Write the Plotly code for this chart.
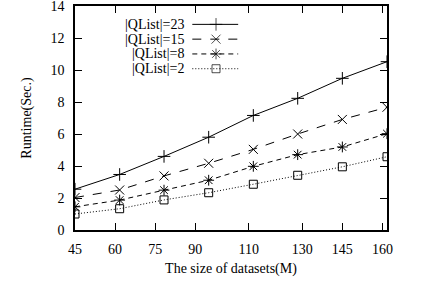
import plotly.graph_objects as go

x_sizes = [45, 61.7, 78.3, 95, 111.7, 128.3, 145, 161.7]
x_ticks = [45, 60, 75, 90, 110, 130, 145, 160]
y_ticks = [0, 2, 4, 6, 8, 10, 12, 14]

q23 = [2.55, 3.47, 4.6, 5.8, 7.16, 8.23, 9.48, 10.52]
q15 = [2.03, 2.5, 3.38, 4.17, 5.04, 6.0, 6.91, 7.67]
q8 = [1.45, 1.87, 2.49, 3.11, 3.98, 4.71, 5.19, 6.02]
q2 = [1.0, 1.33, 1.88, 2.33, 2.86, 3.42, 3.95, 4.58]

labels = ["|QList|=23", "|QList|=15", "|QList|=8", "|QList|=2"]
series = [q23, q15, q8, q2]
dashes = ["solid", "dash", "5px,4px", "1px,2px"]
symbols = ["cross-thin-open", "x-thin-open", "asterisk-open", "square-open"]
sizes = [9, 9, 9, 8]

FONT = "Liberation Serif"
fig = go.Figure()

for lab, ys, d, s, sz in zip(labels, series, dashes, symbols, sizes):
    fig.add_trace(go.Scatter(
        x=x_sizes, y=ys, mode="lines+markers", name=lab,
        line=dict(color="black", width=1, dash=d),
        marker=dict(symbol=s, size=sz, color="black",
                    line=dict(color="black", width=1)),
        showlegend=False))

# custom gnuplot-style legend (text, then sample) on an overlay axis
row_y = [0.918, 0.852, 0.786, 0.72]
for lab, d, s, sz, ry in zip(labels, dashes, symbols, sizes, row_y):
    fig.add_trace(go.Scatter(
        x=[0.376, 0.452, 0.523], y=[ry, ry, ry], xaxis="x2", yaxis="y2",
        mode="lines+markers", showlegend=False, hoverinfo="skip",
        line=dict(color="black", width=1, dash=d),
        marker=dict(symbol=s, size=[0, sz, 0], color="black",
                    line=dict(color="black", width=1))))
    fig.add_annotation(x=0.356, y=ry, xref="paper", yref="paper",
                       text=lab, showarrow=False, xanchor="right",
                       yanchor="middle", font=dict(family=FONT, size=14, color="black"))

axis_common = dict(showline=True, linecolor="black", linewidth=1.5, mirror="ticks",
                   ticks="inside", ticklen=7, tickcolor="black", tickwidth=1,
                   showgrid=False, zeroline=False, automargin=False,
                   ticklabeloverflow="allow",
                   tickfont=dict(family=FONT, size=14, color="black"))

fig.update_layout(
    width=421, height=282,
    margin=dict(l=75, r=34, t=6, b=52),
    paper_bgcolor="white", plot_bgcolor="white",
    font=dict(family=FONT, size=14, color="black"),
    xaxis=dict(range=[45, 161.7], tickvals=x_ticks, ticktext=[str(v) for v in x_ticks],
               title=dict(text="The size of datasets(M)", font=dict(family=FONT, size=14), standoff=8),
               ticklabelstandoff=5, **axis_common),
    yaxis=dict(range=[0, 14.0001], tickvals=y_ticks,
               title=dict(text="Runtime(Sec.)", font=dict(family=FONT, size=14), standoff=16),
               ticklabelstandoff=6, **axis_common),
    xaxis2=dict(overlaying="x", range=[0, 1], visible=False, anchor="y2"),
    yaxis2=dict(overlaying="y", range=[0, 1], visible=False, anchor="x2"),
    showlegend=False,
)

fig.write_html("out.html", config={"displayModeBar": False},
               post_script="document.body.style.margin='0';document.body.style.overflow='hidden';")
